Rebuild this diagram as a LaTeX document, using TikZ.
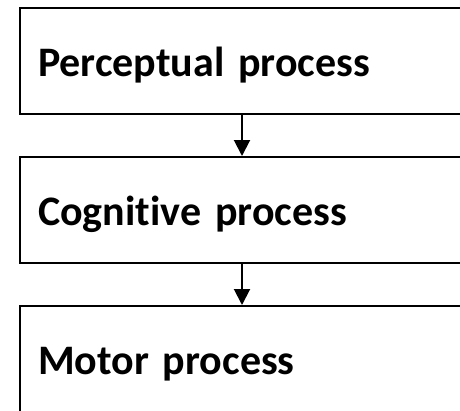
\documentclass[tikz,border=0pt]{standalone}
\usepackage{fontspec}
\setmainfont[Ligatures=NoCommon]{Carlito}
\usepackage{tikz}
\usetikzlibrary{positioning,arrows.meta}

\newcommand{\procfont}{\fontsize{42}{50}\selectfont\bfseries\spaceskip=9.5pt\relax}

\begin{document}
\begin{tikzpicture}[x=1pt, y=-1pt,
    procbox/.style={draw, line width=2pt, rectangle, minimum width=444pt, minimum height=106pt,
      inner xsep=18pt, text width=408pt, align=left, text height=38pt, text depth=8pt,
      font=\procfont},
    flow/.style={line width=2pt, -{Triangle[length=16pt, width=16pt]}}]
  \useasboundingbox (0, 0) rectangle (460, 410);

  % Stages
  \node[procbox] (percept) at (242, 61) {Perceptual process};
  \node[procbox] (cognit) at (242, 210) {Cognitive process};
  \node[procbox] (motor) at (242, 359) {Motor process};

  % Flow between stages
  \draw[flow] (percept.south) -- (cognit.north);
  \draw[flow] (cognit.south) -- (motor.north);
\end{tikzpicture}
\end{document}
